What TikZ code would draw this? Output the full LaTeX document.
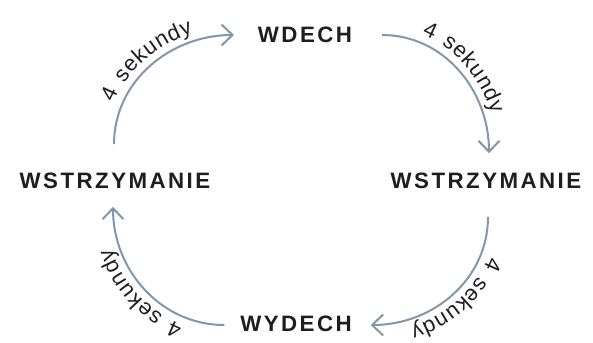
\documentclass[tikz,border=0pt]{standalone}
\usepackage{fontspec}
\setmainfont{Liberation Sans}
\newfontfamily\labfont[LetterSpace=11]{Liberation Sans}
\newfontfamily\arcfont[LetterSpace=10]{Liberation Sans}
\usetikzlibrary{arrows.meta,decorations.text}
\definecolor{arccol}{HTML}{8097AC}
\definecolor{txtcol}{HTML}{1E1E1E}
\tikzset{
  phase/.style={inner sep=0pt, outer sep=0pt, text depth=0pt, text=txtcol,
    font=\labfont\bfseries\fontsize{22.3}{24}\selectfont},
  cyclearc/.style={draw=arccol, line width=2pt,
    -{Straight Barb[length=11pt,width=21pt,line width=2pt]},
    postaction={decorate, decoration={text along path,
      text={4 sekundy}, text align=center, raise=8pt,
      text color=txtcol}}}
}
\begin{document}
\begin{tikzpicture}[x=1pt,y=1pt]
\useasboundingbox (0,0) rectangle (593,-342);
\node[phase] (wd) at (305,-35) {WDECH};
\node[phase] (wl) at (115,-181) {WSTRZYMANIE};
\node[phase] (wr) at (486,-181) {WSTRZYMANIE};
\node[phase] (wy) at (296,-323.5) {WYDECH};
\begin{scope}
\arcfont\fontsize{22}{24}\selectfont
\path[cyclearc]
  ([xshift=-1pt,yshift=29pt]wl.north) to[out=90,in=180] ([xshift=-24pt]wd.west);
\path[cyclearc]
  ([xshift=30pt]wd.east) to[out=0,in=90] ([xshift=3pt,yshift=20pt]wr.north);
\path[cyclearc]
  ([xshift=2pt,yshift=-28pt]wr.south) to[out=-90,in=0] ([xshift=19pt,yshift=-1.5pt]wy.east);
\path[cyclearc]
  ([xshift=-16pt,yshift=-1.5pt]wy.west) to[out=180,in=-90] ([xshift=-2pt,yshift=-18pt]wl.south);
\end{scope}
\end{tikzpicture}
\end{document}
